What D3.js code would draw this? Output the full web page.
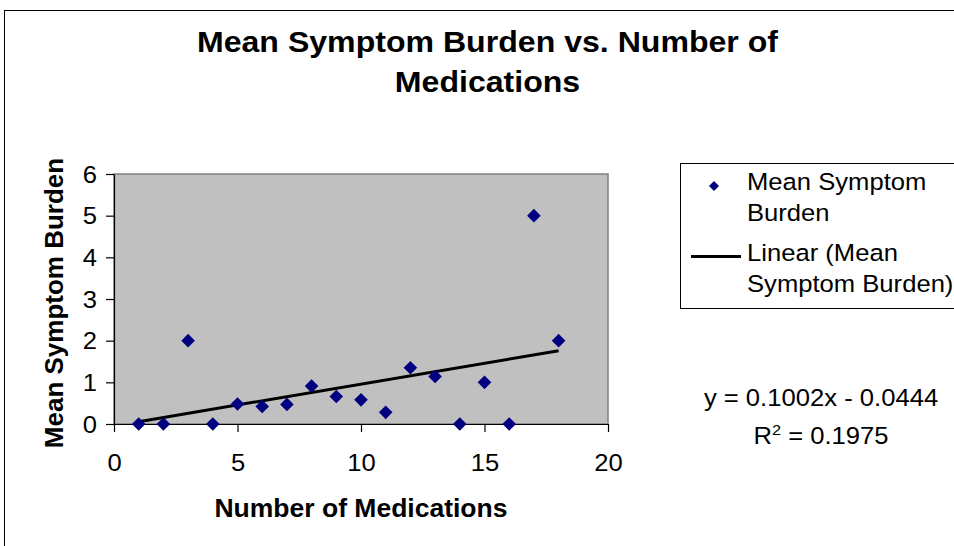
<!DOCTYPE html>
<html>
<head>
<meta charset="utf-8">
<script src="https://cdn.jsdelivr.net/npm/d3@7"></script>
<style>
  html, body { margin: 0; padding: 0; background: #ffffff; }
  svg { display: block; }
  text { font-family: "Liberation Sans", Arial, Helvetica, sans-serif; fill: #000; }
</style>
</head>
<body>
<svg id="chart" width="954" height="546"></svg>
<script>
// ---- data ----
const medications = [1, 2, 3, 4, 5, 6, 7, 8, 9, 10, 11, 12, 13, 14, 15, 16, 17, 18];
const symptomBurden = [0, 0, 2, 0, 0.48, 0.42, 0.47, 0.91, 0.66, 0.58, 0.28, 1.35, 1.14, 0, 1.0, 0, 5, 2];
const xTicks = [0, 5, 10, 15, 20];
const yTicks = [0, 1, 2, 3, 4, 5, 6];
const trendSlope = 0.1002;
const trendIntercept = -0.0444;
const rSquared = 0.1975;
const titleLines = ["Mean Symptom Burden vs. Number of", "Medications"];
const xTitle = "Number of Medications";
const yTitle = "Mean Symptom Burden";
const legendLabels = [["Mean Symptom", "Burden"], ["Linear (Mean", "Symptom Burden)"]];

// ---- layout ----
const W = 954, H = 546;
const plot = { left: 114, right: 608, top: 174, bottom: 424 };
const markerColor = "#000080";
const plotBg = "#C0C0C0";
const regFont = 23.5, regSx = 1.09;

const svg = d3.select("#chart");

// outer chart frame (extends past right/bottom edges)
svg.append("rect")
  .attr("x", 4.5).attr("y", 10.5)
  .attr("width", W + 20).attr("height", H + 20)
  .attr("fill", "#fff").attr("stroke", "#000").attr("stroke-width", 1);

const x = d3.scaleLinear().domain([0, 20]).range([plot.left, plot.right]);
const y = d3.scaleLinear().domain([0, 6]).range([plot.bottom, plot.top]);

// plot area
svg.append("rect")
  .attr("x", plot.left).attr("y", plot.top)
  .attr("width", plot.right - plot.left).attr("height", plot.bottom - plot.top)
  .attr("fill", plotBg).attr("stroke", "#808080").attr("stroke-width", 1.5);

// axes
const yAxis = svg.append("g")
  .attr("transform", `translate(${plot.left},0)`)
  .call(d3.axisLeft(y).tickValues(yTicks).tickSize(8).tickSizeOuter(0).tickFormat(d3.format("d")));
const xAxis = svg.append("g")
  .attr("transform", `translate(0,${plot.bottom})`)
  .call(d3.axisBottom(x).tickValues(xTicks).tickSize(8).tickSizeOuter(0).tickFormat(d3.format("d")));

[xAxis, yAxis].forEach(a => {
  a.select(".domain").attr("stroke", "#000").attr("stroke-width", 1.2);
  a.selectAll(".tick line").attr("stroke", "#000").attr("stroke-width", 1.2);
  a.selectAll(".tick text")
    .attr("font-size", regFont)
    .attr("font-family", "Liberation Sans, Arial, sans-serif")
    .attr("fill", "#000");
});
yAxis.selectAll(".tick text")
  .attr("x", 0).attr("dy", null).attr("y", 0)
  .attr("text-anchor", "end")
  .attr("transform", `translate(-17,8.3) scale(${regSx},1)`);
xAxis.selectAll(".tick text")
  .attr("x", 0).attr("dy", null).attr("y", 0)
  .attr("text-anchor", "middle")
  .attr("transform", `translate(0,47) scale(${regSx},1)`);

// trendline
const trendX = d3.extent(medications);
svg.append("line")
  .attr("x1", x(trendX[0])).attr("y1", y(trendSlope * trendX[0] + trendIntercept))
  .attr("x2", x(trendX[1])).attr("y2", y(trendSlope * trendX[1] + trendIntercept))
  .attr("stroke", "#000").attr("stroke-width", 3);

// markers (diamonds)
const diamond = r => `M0,${-r}L${r},0L0,${r}L${-r},0Z`;
svg.append("g").selectAll("path")
  .data(medications.map((m, i) => [m, symptomBurden[i]]))
  .join("path")
  .attr("d", diamond(6.8))
  .attr("transform", d => `translate(${x(d[0])},${y(d[1])})`)
  .attr("fill", markerColor);

// title
svg.append("text")
  .attr("text-anchor", "middle")
  .attr("font-size", 30).attr("font-weight", "bold")
  .attr("transform", "translate(487.5,0) scale(1.07,1)")
  .selectAll("tspan").data(titleLines).join("tspan")
  .attr("x", 0).attr("y", (d, i) => 52 + i * 40)
  .text(d => d);

// axis titles
svg.append("text")
  .attr("text-anchor", "middle").attr("font-size", 26.5).attr("font-weight", "bold")
  .attr("x", (plot.left + plot.right) / 2).attr("y", 517)
  .text(xTitle);
svg.append("text")
  .attr("text-anchor", "middle").attr("font-size", 26).attr("font-weight", "bold")
  .attr("transform", `translate(63,${(plot.top + plot.bottom) / 2 + 4}) rotate(-90)`)
  .text(yTitle);

// legend
const lg = svg.append("g");
lg.append("rect")
  .attr("x", 680.5).attr("y", 163.5).attr("width", 300).attr("height", 145)
  .attr("fill", "#fff").attr("stroke", "#000").attr("stroke-width", 1);
lg.append("path").attr("d", diamond(5)).attr("transform", "translate(714,186)").attr("fill", markerColor);
lg.append("line").attr("x1", 691).attr("x2", 741).attr("y1", 256.5).attr("y2", 256.5)
  .attr("stroke", "#000").attr("stroke-width", 3);
const legendBase = [190, 261];
legendLabels.forEach((lines, k) => {
  lg.append("text")
    .attr("font-size", regFont)
    .attr("transform", `translate(747,0) scale(${regSx},1)`)
    .selectAll("tspan").data(lines).join("tspan")
    .attr("x", 0).attr("y", (d, i) => legendBase[k] + i * 31)
    .text(d => d);
});

// equation label
const eqSign = trendIntercept < 0 ? " - " : " + ";
const eq = svg.append("text")
  .attr("text-anchor", "middle").attr("font-size", regFont)
  .attr("transform", `translate(821,0) scale(${regSx},1)`);
eq.append("tspan").attr("x", 0).attr("y", 406)
  .text(`y = ${trendSlope.toFixed(4)}x${eqSign}${Math.abs(trendIntercept).toFixed(4)}`);
const r2 = svg.append("text")
  .attr("text-anchor", "middle").attr("font-size", regFont)
  .attr("transform", `translate(821,0) scale(${regSx},1)`);
r2.append("tspan").attr("x", 0).attr("y", 444).text("R");
r2.append("tspan").attr("dy", -9).attr("font-size", 15).text("2");
r2.append("tspan").attr("dy", 9).text(` = ${rSquared.toFixed(4)}`);
</script>
</body>
</html>
